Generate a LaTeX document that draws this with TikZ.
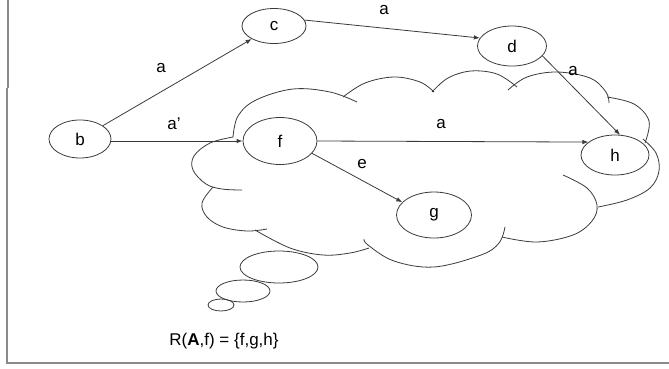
\documentclass[tikz,border=0pt]{standalone}
\usepackage{fontspec}
\setmainfont{Liberation Sans}
\usetikzlibrary{arrows.meta,shapes.geometric}
\definecolor{linec}{HTML}{3A3A3A}
\definecolor{framec}{HTML}{8A8A8A}
\begin{document}
\begin{tikzpicture}[x=1pt,y=-1pt,
  vtx/.style={ellipse,draw=linec,line width=0.8pt,inner sep=0pt,font=\fontsize{17}{20}\selectfont},
  lbl/.style={inner sep=0pt,font=\fontsize{17}{20}\selectfont},
  edge/.style={draw=linec,line width=0.8pt,-{Latex[length=6pt,width=4.5pt]}},
  cloudarc/.style={draw=linec,line width=0.8pt},
  framel/.style={draw=framec,line width=1.3pt}]
\useasboundingbox (0,0) rectangle (669,368);
% frame
\draw[framel] (8,0) -- (8,88);
\draw[framel] (7,88) -- (7,363) -- (669,363);
% cloud
\draw[cloudarc] plot[smooth,tension=0.6] coordinates {(233,137) (238,116) (256,100) (293,89) (330,92) (357,102)};
\draw[cloudarc] plot[smooth,tension=0.6] coordinates {(343,97) (365,83) (394,77) (420,82) (434,92)};
\draw[cloudarc] plot[smooth,tension=0.6] coordinates {(432,92) (448,78) (471,71) (497,74) (517,87)};
\draw[cloudarc] plot[smooth,tension=0.6] coordinates {(508,90) (527,77) (557,72) (590,78) (606,92) (609,103)};
\draw[cloudarc] plot[smooth,tension=0.6] coordinates {(607,97) (634,104) (649,121) (645,143)};
\draw[cloudarc] plot[smooth,tension=0.6] coordinates {(643,139) (656,153) (659,171) (650,188) (627,200) (598,207)};
\draw[cloudarc] plot[smooth,tension=0.6] coordinates {(563,175) (587,188) (597,205) (592,221) (573,235) (537,242) (502,237)};
\draw[cloudarc] plot[smooth,tension=0.6] coordinates {(505,227) (499,243) (481,255) (434,267) (394,261) (368,245) (364,239)};
\draw[cloudarc] plot[smooth,tension=0.6] coordinates {(255,230) (290,248) (323,255) (350,253) (369,248)};
\draw[cloudarc] plot[smooth,tension=0.6] coordinates {(213,187) (202,203) (207,217) (223,227) (247,231) (267,229)};
\draw[cloudarc] plot[smooth,tension=0.6] coordinates {(233,137) (210,143) (194,156) (193,170) (206,184) (222,189) (242,190)};
% thought bubbles
\draw[cloudarc] (279,267) ellipse [x radius=39, y radius=16];
\draw[cloudarc] (243,291) ellipse [x radius=27, y radius=11];
\draw[cloudarc] (221,305) ellipse [x radius=13, y radius=6];
% nodes
\node[vtx,minimum width=62pt,minimum height=38pt] (b) at (80,139) {b};
\node[vtx,minimum width=64pt,minimum height=35pt] (c) at (274,26) {c};
\node[vtx,minimum width=69pt,minimum height=40pt] (d) at (512,46) {d};
\node[vtx,minimum width=74pt,minimum height=47pt] (f) at (280,141) {f};
\node[vtx,minimum width=75pt,minimum height=46pt] (g) at (434,215) {g};
\node[vtx,minimum width=68pt,minimum height=40pt] (h) at (615,155) {h};
% edges
\draw[edge] (b) -- (c);
\draw[edge] (b.east |- f.west) -- (f.west);
\draw[edge] (c.11) -- (d.166);
\draw[edge] (d.-18) -- (h.76);
\draw[edge] (f.east) -- (h.154);
\draw[edge] (f.-21) -- (g.158);
% labels
\node[lbl] (l1) at (161,68) {a};
\node[lbl] (l2) at (174,124) {a'};
\node[lbl] (l3) at (384,10) {a};
\node[lbl] (l4) at (573,71) {a};
\node[lbl] (l5) at (441,124) {a};
\node[lbl] (l6) at (362,164) {e};
\node[lbl] (res) at (224,341) {R(\textbf{A},f) = \{f,g,h\}};
\end{tikzpicture}
\end{document}
